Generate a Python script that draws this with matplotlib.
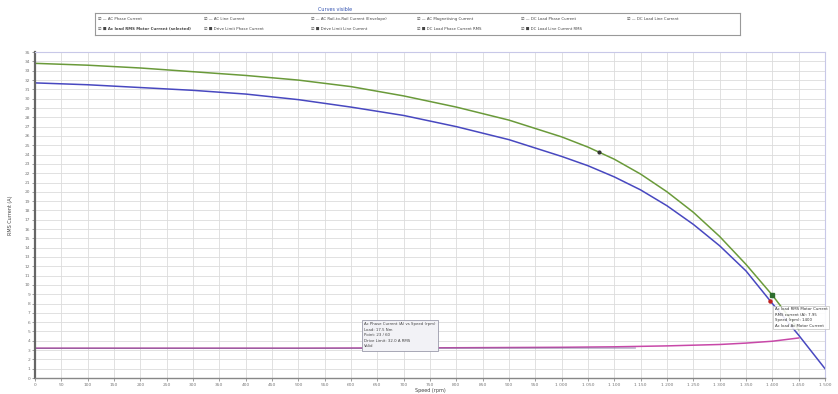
import matplotlib
matplotlib.use('Agg')
from matplotlib import pyplot as plt

# --- Data

speed_green = [0, 100, 200, 300, 400, 500, 600, 700, 800, 900, 1000, 1050,
               1100, 1150, 1200, 1250, 1300, 1350, 1400, 1450]
phase_current = [33.8, 33.6, 33.3, 32.9, 32.5, 32.0, 31.3, 30.3, 29.1, 27.7,
                 25.9, 24.8, 23.5, 21.9, 20.0, 17.8, 15.2, 12.2, 8.9, 5.2]

speed_blue = [0, 100, 200, 300, 400, 500, 600, 700, 800, 900, 1000, 1050,
              1100, 1150, 1200, 1250, 1300, 1350, 1400, 1450, 1500]
rms_motor_current = [31.7, 31.5, 31.2, 30.9, 30.5, 29.9, 29.1, 28.2, 27.0,
                     25.6, 23.8, 22.8, 21.6, 20.2, 18.5, 16.5, 14.2, 11.5,
                     8.0, 4.6, 1.0]

speed_pink = [0, 500, 800, 1000, 1100, 1200, 1300, 1350, 1400, 1450]
magnetising_current = [3.2, 3.2, 3.25, 3.3, 3.35, 3.45, 3.6, 3.75, 3.95, 4.3]

speed_grey = [0, 600, 1140]
dc_load_current = [3.2, 3.2, 3.22]

green_marker = (1070, 24.3)
square_marker = (1400, 8.9)
red_marker = (1395, 8.3)

x_ticks = list(range(0, 1501, 50))
y_ticks = list(range(0, 36, 1))

legend_row1 = ['AC Phase Current', 'AC Line Current',
               'AC Rail-to-Rail Current (Envelope)', 'AC Magnetising Current',
               'DC Load Phase Current', 'DC Load Line Current']
legend_row2 = ['Ac load RMS Motor Current (selected)', 'Drive Limit Phase Current',
               'Drive Limit Line Current', 'DC Load Phase Current RMS',
               'DC Load Line Current RMS']

tooltip_lines = ['Ac Phase Current (A) vs Speed (rpm)', 'Load: 17.5 Nm',
                 'Point: 23 / 60', 'Drive Limit: 32.0 A RMS', 'Valid']
cursor_lines = ['Ac load RMS Motor Current', 'RMS current (A): 7.95',
                'Speed (rpm): 1400', 'Ac load Ac Motor Current']

# --- Figure

fig = plt.figure(figsize=(8.38, 3.94), dpi=100)
ax = fig.add_axes([0.0418, 0.0406, 0.9427, 0.827])

ax.set_xlim(0, 1500)
ax.set_ylim(0, 35)
ax.set_xticks(x_ticks)
ax.set_yticks(y_ticks)
ax.set_xticklabels([f'{v:,}'.replace(',', ' ') for v in x_ticks], fontsize=3.2, color='#555555')
ax.set_yticklabels([str(v) for v in y_ticks], fontsize=3.2, color='#555555')
ax.tick_params(length=2, width=0.5, pad=1.5, colors='#777777')
ax.grid(True, color='#dcdcdc', linewidth=0.6)
ax.set_axisbelow(True)

for side in ['top', 'right']:
    ax.spines[side].set_color('#c8c8e8')
    ax.spines[side].set_linewidth(0.8)
ax.spines['left'].set_color('#666666')
ax.spines['left'].set_linewidth(1.6)
ax.spines['bottom'].set_color('#888888')
ax.spines['bottom'].set_linewidth(1.0)

ax.plot(speed_pink, magnetising_current, color='#c848a8', linewidth=1.1)
ax.plot(speed_grey, dc_load_current, color='#7a6a9a', linewidth=0.7, alpha=0.8)
ax.plot(speed_green, phase_current, color='#6a9a3a', linewidth=1.1)
ax.plot(speed_blue, rms_motor_current, color='#4848c0', linewidth=1.1)

ax.plot(*green_marker, 'o', color='#333333', markersize=2)
ax.plot(*square_marker, 's', color='#2e6e2e', markersize=3.5)
ax.plot(*red_marker, 'o', color='#c02020', markersize=2.2)

ax.set_xlabel('Speed (rpm)', fontsize=3.5, color='#444444', labelpad=1)
ax.set_ylabel('RMS Current (A)', fontsize=3.5, color='#444444', labelpad=8)

# tooltip box in the middle
ax.text(625, 4.6, '\n'.join(tooltip_lines), fontsize=2.8, color='#444444',
        va='center', ha='left', linespacing=1.5,
        bbox=dict(boxstyle='square,pad=0.6', fc='#f2f2f6', ec='#9a9aaa', lw=0.6))

# cursor readout at the end of the curves
ax.text(1405, 6.5, '\n'.join(cursor_lines), fontsize=2.8, color='#333333',
        va='center', ha='left', linespacing=1.5,
        bbox=dict(boxstyle='square,pad=0.4', fc='#ffffff', ec='#bbbbbb', lw=0.5, alpha=0.9))

# --- Legend panel (checkbox style) above the chart

fig.text(0.40, 0.975, 'Curves visible', fontsize=3.5, color='#3050b0', ha='center', va='center')
leg_ax = fig.add_axes([0.113, 0.91, 0.77, 0.058])
leg_ax.set_xlim(0, 1)
leg_ax.set_ylim(0, 1)
leg_ax.set_xticks([])
leg_ax.set_yticks([])
for s in leg_ax.spines.values():
    s.set_color('#999999')
    s.set_linewidth(0.8)

col_x = [0.005, 0.17, 0.335, 0.5, 0.66, 0.825]
for i, name in enumerate(legend_row1):
    leg_ax.text(col_x[i], 0.7, '\u2611 \u2014 ' + name, fontsize=2.8, color='#444444', va='center')
for i, name in enumerate(legend_row2):
    weight = 'bold' if i == 0 else 'normal'
    leg_ax.text(col_x[i], 0.28, '\u2611 \u25a0 ' + name, fontsize=2.8, color='#444444',
                va='center', fontweight=weight)

plt.savefig('out.png', dpi=100)
